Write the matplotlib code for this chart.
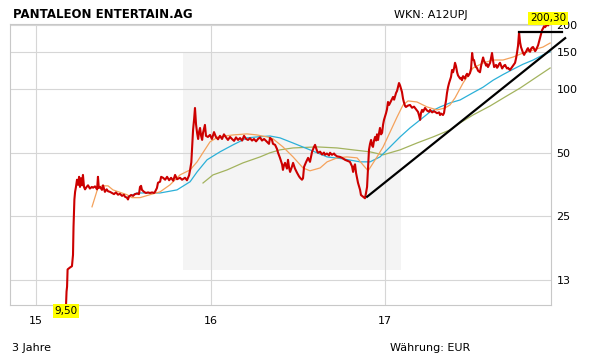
import matplotlib
matplotlib.use('Agg')
import matplotlib.pyplot as plt
from matplotlib.patches import Rectangle
from matplotlib.ticker import FixedLocator, NullLocator

# Kurs (Jahr als Dezimalzahl, Preis in EUR)
price_x = [2015.172, 2015.175, 2015.178, 2015.181, 2015.195, 2015.206, 2015.212, 2015.215, 2015.220, 2015.224,
           2015.229, 2015.235, 2015.241, 2015.247, 2015.252, 2015.258, 2015.264, 2015.269, 2015.275, 2015.281,
           2015.290, 2015.298, 2015.309, 2015.320, 2015.327, 2015.338, 2015.350, 2015.355, 2015.360, 2015.367,
           2015.378, 2015.384, 2015.395, 2015.405, 2015.413, 2015.424, 2015.435, 2015.447, 2015.458, 2015.470,
           2015.481, 2015.493, 2015.504, 2015.510, 2015.521, 2015.527, 2015.533, 2015.545, 2015.556, 2015.567,
           2015.579, 2015.590, 2015.596, 2015.602, 2015.607, 2015.619, 2015.630, 2015.642, 2015.653, 2015.665,
           2015.676, 2015.682, 2015.693, 2015.699, 2015.711, 2015.717, 2015.728, 2015.740, 2015.751, 2015.763,
           2015.774, 2015.786, 2015.797, 2015.808, 2015.825, 2015.837, 2015.854, 2015.865, 2015.877, 2015.883,
           2015.890, 2015.894, 2015.900, 2015.906, 2015.911, 2015.917, 2015.923, 2015.929, 2015.935, 2015.940,
           2015.946, 2015.952, 2015.957, 2015.968, 2015.974, 2015.985, 2015.997, 2016.008, 2016.020, 2016.031,
           2016.043, 2016.054, 2016.066, 2016.077, 2016.089, 2016.100, 2016.112, 2016.123, 2016.135, 2016.146,
           2016.158, 2016.169, 2016.181, 2016.192, 2016.204, 2016.215, 2016.226, 2016.238, 2016.249, 2016.261,
           2016.272, 2016.284, 2016.295, 2016.307, 2016.324, 2016.335, 2016.341, 2016.352, 2016.358, 2016.370,
           2016.381, 2016.387, 2016.398, 2016.410, 2016.415, 2016.421, 2016.427, 2016.438, 2016.444, 2016.450,
           2016.456, 2016.467, 2016.473, 2016.484, 2016.496, 2016.507, 2016.513, 2016.524, 2016.530, 2016.536,
           2016.547, 2016.559, 2016.570, 2016.582, 2016.593, 2016.599, 2016.610, 2016.616, 2016.628, 2016.639,
           2016.650, 2016.656, 2016.667, 2016.679, 2016.685, 2016.696, 2016.708, 2016.713, 2016.725, 2016.742,
           2016.754, 2016.771, 2016.782, 2016.799, 2016.811, 2016.817, 2016.822, 2016.828, 2016.834, 2016.845,
           2016.857, 2016.862, 2016.868, 2016.880, 2016.885, 2016.891, 2016.897, 2016.903, 2016.908, 2016.914,
           2016.920, 2016.926, 2016.931, 2016.937, 2016.943, 2016.949, 2016.954, 2016.960, 2016.966, 2016.971,
           2016.977, 2016.983, 2016.989, 2016.994, 2017.000, 2017.006, 2017.011, 2017.017, 2017.023, 2017.029,
           2017.035, 2017.046, 2017.052, 2017.063, 2017.069, 2017.074, 2017.080, 2017.086, 2017.092, 2017.097,
           2017.103, 2017.109, 2017.115, 2017.120, 2017.132, 2017.143, 2017.155, 2017.166, 2017.172, 2017.183,
           2017.189, 2017.195, 2017.201, 2017.206, 2017.212, 2017.218, 2017.229, 2017.241, 2017.252, 2017.258,
           2017.270, 2017.281, 2017.287, 2017.298, 2017.310, 2017.315, 2017.321, 2017.332, 2017.338, 2017.344,
           2017.350, 2017.355, 2017.361, 2017.367, 2017.372, 2017.378, 2017.384, 2017.390, 2017.396, 2017.401,
           2017.407, 2017.413, 2017.418, 2017.424, 2017.430, 2017.436, 2017.441, 2017.447, 2017.458, 2017.464,
           2017.470, 2017.476, 2017.487, 2017.493, 2017.499, 2017.504, 2017.510, 2017.516, 2017.521, 2017.527,
           2017.533, 2017.539, 2017.544, 2017.550, 2017.556, 2017.562, 2017.567, 2017.573, 2017.579, 2017.585,
           2017.590, 2017.596, 2017.602, 2017.607, 2017.613, 2017.619, 2017.625, 2017.630, 2017.636, 2017.642,
           2017.648, 2017.653, 2017.659, 2017.665, 2017.671, 2017.676, 2017.682, 2017.688, 2017.694, 2017.699,
           2017.705, 2017.711, 2017.716, 2017.722, 2017.728, 2017.734, 2017.740, 2017.745, 2017.751, 2017.756,
           2017.762, 2017.768, 2017.774, 2017.779, 2017.785, 2017.791, 2017.797, 2017.802, 2017.808, 2017.814,
           2017.819, 2017.825, 2017.831, 2017.837, 2017.842, 2017.848, 2017.854, 2017.860, 2017.865, 2017.871,
           2017.877, 2017.883, 2017.888, 2017.894, 2017.900, 2017.906, 2017.911, 2017.917, 2017.923, 2017.929,
           2017.934]
price_y = [9.5, 11.0, 11.6, 14.0, 14.3, 14.5, 16.4, 22.3, 30.0, 32.6,
           34.4, 37.2, 35.2, 38.4, 34.4, 37.8, 35.0, 39.2, 34.4, 33.5,
           34.4, 35.0, 33.8, 34.4, 34.1, 34.6, 33.5, 38.4, 34.0, 34.4,
           33.3, 35.0, 32.6, 33.5, 32.8, 32.6, 32.2, 31.8, 32.4, 31.6,
           31.9, 31.2, 31.6, 30.9, 30.6, 30.0, 31.0, 31.5, 31.2, 31.8,
           32.0, 31.8, 34.4, 34.8, 33.3, 32.6, 32.2, 32.4, 32.2, 32.4,
           32.2, 32.6, 34.0, 36.0, 36.4, 38.4, 38.0, 37.2, 38.4, 37.0,
           38.0, 36.8, 39.2, 37.4, 38.0, 37.2, 38.0, 37.0, 39.0, 41.4,
           45.0, 52.0, 64.0, 72.0, 81.3, 68.0, 62.0, 58.0, 63.0, 65.4,
           60.0, 57.4, 62.0, 67.6, 60.0, 59.3, 60.6, 58.0, 62.5, 59.3,
           57.8, 60.0, 58.0, 61.0, 59.0, 57.4, 59.3, 58.0, 56.8, 59.0,
           57.4, 58.6, 57.0, 60.0, 58.0, 57.4, 58.5, 57.0, 58.0, 56.5,
           58.0, 59.0, 57.0, 58.0, 56.2, 55.0, 58.7, 57.5, 55.0, 54.4,
           52.0, 49.9, 47.2, 44.0, 41.4, 43.5, 44.7, 42.0, 46.2, 42.5,
           40.5, 43.0, 44.7, 42.0, 40.1, 38.6, 38.0, 37.2, 37.8, 42.8,
           45.0, 47.2, 45.2, 50.5, 53.2, 54.4, 51.0, 49.9, 50.5, 49.0,
           50.0, 48.8, 49.5, 48.5, 49.9, 48.8, 49.5, 48.8, 48.0, 47.7,
           47.2, 46.2, 45.8, 45.2, 43.0, 40.5, 42.8, 44.0, 40.0, 36.0,
           33.3, 31.5, 31.2, 30.6, 30.4, 32.2, 34.4, 42.8, 51.5, 55.0,
           57.4, 54.0, 53.2, 57.0, 59.3, 57.0, 61.0, 57.4, 62.0, 65.4,
           61.0, 62.0, 68.0, 71.4, 74.0, 77.0, 80.0, 86.8, 84.0, 85.9,
           88.0, 91.7, 89.0, 95.7, 98.0, 102.0, 106.7, 104.0, 100.0, 96.8,
           90.0, 85.9, 83.0, 82.2, 83.5, 84.0, 81.5, 82.5, 81.3, 79.0,
           77.9, 75.0, 71.4, 77.0, 79.6, 78.0, 81.3, 79.0, 78.0, 79.6,
           77.5, 78.5, 77.9, 76.8, 77.5, 75.3, 76.5, 75.3, 77.0, 83.0,
           88.7, 95.7, 102.0, 106.7, 110.0, 114.0, 123.0, 120.0, 126.0, 133.0,
           128.0, 120.0, 116.0, 114.0, 112.0, 113.0, 110.0, 115.0, 112.0, 116.0,
           118.0, 115.0, 119.0, 125.0, 148.0, 138.0, 137.0, 130.0, 127.0, 125.6,
           122.0, 121.0, 120.0, 128.0, 135.0, 141.0, 136.0, 133.0, 129.0, 131.0,
           127.0, 130.0, 133.0, 140.0, 148.0, 136.0, 127.0, 128.0, 130.0, 126.0,
           128.0, 131.0, 133.0, 129.0, 125.0, 127.0, 129.0, 130.0, 127.0, 125.0,
           126.0, 124.0, 123.0, 125.0, 127.0, 129.0, 131.0, 133.0, 140.0, 148.0,
           160.0, 185.0, 166.0, 158.0, 153.0, 148.0, 145.0, 148.0, 150.0, 154.0,
           156.0, 152.0, 150.0, 155.0, 157.0, 158.0, 155.0, 151.0, 153.0, 157.0,
           161.0, 168.0, 174.0, 182.0, 190.0, 194.0, 198.0, 196.0, 199.0, 202.0,
           200.3]

# gleitende Durchschnitte
ma38_x = [2015.321, 2015.355, 2015.378, 2015.413, 2015.441, 2015.521, 2015.550, 2015.596, 2015.653, 2015.711,
          2015.768, 2015.825, 2015.883, 2015.923, 2015.957, 2015.997, 2016.043, 2016.129, 2016.209, 2016.266,
          2016.324, 2016.358, 2016.415, 2016.473, 2016.530, 2016.570, 2016.628, 2016.668, 2016.725, 2016.782,
          2016.840, 2016.874, 2016.903, 2016.954, 2016.989, 2017.029, 2017.069, 2017.103, 2017.132, 2017.183,
          2017.241, 2017.298, 2017.344, 2017.372, 2017.401, 2017.447, 2017.504, 2017.562, 2017.619, 2017.676,
          2017.734, 2017.791, 2017.848, 2017.905, 2017.946]
ma38_y = [27.7, 34.1, 34.8, 34.8, 33.3, 31.6, 30.6, 30.6, 31.6, 32.6,
          35.2, 39.2, 41.4, 45.2, 50.0, 56.2, 59.3, 60.6, 61.3, 60.6,
          59.3, 58.1, 53.2, 47.7, 42.3, 41.0, 42.3, 45.2, 47.2, 47.7,
          47.2, 43.7, 41.0, 47.7, 53.2, 62.6, 73.7, 84.0, 87.8, 86.8,
          82.2, 79.6, 81.3, 84.0, 90.7, 106.7, 125.7, 132.7, 137.1, 137.1,
          141.6, 148.0, 152.9, 157.9, 165.0]

ma100_x = [2015.527, 2015.579, 2015.653, 2015.711, 2015.808, 2015.883, 2015.923, 2015.980, 2016.054, 2016.129,
           2016.209, 2016.266, 2016.341, 2016.398, 2016.473, 2016.570, 2016.668, 2016.759, 2016.857, 2016.914,
           2016.971, 2017.029, 2017.086, 2017.143, 2017.201, 2017.258, 2017.315, 2017.372, 2017.430, 2017.504,
           2017.562, 2017.619, 2017.676, 2017.734, 2017.791, 2017.848, 2017.905, 2017.946]
ma100_y = [30.9, 32.2, 32.2, 32.2, 33.3, 36.4, 40.5, 46.2, 50.4, 54.4,
           58.7, 59.3, 59.9, 58.7, 55.5, 51.5, 47.7, 46.7, 45.2, 45.2,
           47.7, 53.2, 59.3, 65.4, 71.4, 77.9, 82.2, 85.9, 88.7, 96.0,
           102.0, 110.0, 117.0, 124.0, 131.0, 137.0, 145.0, 150.0]

ma200_x = [2015.957, 2016.014, 2016.095, 2016.186, 2016.284, 2016.341, 2016.398, 2016.473, 2016.610, 2016.725,
           2016.817, 2016.914, 2016.989, 2017.086, 2017.183, 2017.275, 2017.372, 2017.430, 2017.504, 2017.602,
           2017.688, 2017.774, 2017.860, 2017.946]
ma200_y = [35.9, 39.2, 41.4, 44.7, 47.7, 49.9, 51.5, 52.6, 53.2, 52.6,
           51.5, 50.4, 48.8, 51.5, 55.5, 59.3, 64.0, 69.1, 75.3, 83.1,
           91.7, 101.0, 112.7, 125.7]

# Trendlinie und Widerstand
trend_x = [2016.897, 2018.032]
trend_y = [30.9, 174.0]
resist_x = [2017.768, 2018.014]
resist_y = [186.0, 186.0]

year_ticks = [2015, 2016, 2017]
year_labels = ['15', '16', '17']
price_ticks = [12.5, 25, 50, 100, 150, 200]
price_labels = ['13', '25', '50', '100', '150', '200']

fig = plt.figure(figsize=(6.11, 3.64), dpi=100)
fig.set_facecolor('white')
ax = fig.add_axes([10 / 611, 1 - 305 / 364, 541 / 611, 281 / 364])
ax.set_facecolor('white')

# grauer Hintergrundblock
ax.add_patch(Rectangle((183 / 611, 1 - 270 / 364), 218 / 611, 218 / 364,
                       transform=fig.transFigure, facecolor='#f4f4f4', edgecolor='none', zorder=0.1))

ax.set_yscale('log')
ax.set_xlim(2014.851, 2017.951)
ax.set_ylim(9.5, 203)

ax.plot(ma200_x, ma200_y, color='#a3b35e', lw=0.9, zorder=2)
ax.plot(ma100_x, ma100_y, color='#2bb0d8', lw=0.9, zorder=2)
ax.plot(ma38_x, ma38_y, color='#f4a25c', lw=0.9, zorder=2)
ax.plot(price_x, price_y, color='#cc0000', lw=1.5, zorder=3)
ax.plot(trend_x, trend_y, color='black', lw=1.6, zorder=4, clip_on=False)
ax.plot(resist_x, resist_y, color='black', lw=1.6, zorder=4, clip_on=False)

ax.annotate('9,50', (price_x[0], price_y[0]), xytext=(0, -6), textcoords='offset pixels',
            ha='center', va='center', fontsize=7.5,
            bbox=dict(boxstyle='square,pad=0.15', fc='#ffff00', ec='none'), zorder=6, annotation_clip=False)
ax.annotate('200,30', (price_x[-1], price_y[-1]), xytext=(0, 7), textcoords='offset pixels',
            ha='center', va='center', fontsize=7.5,
            bbox=dict(boxstyle='square,pad=0.15', fc='#ffff00', ec='none'), zorder=6, annotation_clip=False)

ax.xaxis.set_major_locator(FixedLocator(year_ticks))
ax.set_xticklabels(year_labels)
ax.yaxis.set_major_locator(FixedLocator(price_ticks))
ax.yaxis.set_minor_locator(NullLocator())
ax.set_yticklabels(price_labels)
ax.yaxis.tick_right()
ax.tick_params(axis='x', length=0, pad=8, labelsize=8)
ax.tick_params(axis='y', length=0, pad=4, labelsize=8)

ax.grid(True, color='#d6d6d6', lw=0.8)
ax.set_axisbelow(True)
for s in ax.spines.values():
    s.set_color('#c8c8c8')
    s.set_linewidth(0.8)

fig.text(13 / 611, 1 - 15 / 364, 'PANTALEON ENTERTAIN.AG', fontsize=8.5, fontweight='bold', va='center')
fig.text(394 / 611, 1 - 15 / 364, 'WKN: A12UPJ', fontsize=8, va='center')
fig.text(12 / 611, 1 - 348 / 364, '3 Jahre', fontsize=8, va='center')
fig.text(390 / 611, 1 - 348 / 364, 'Währung: EUR', fontsize=8, va='center')

fig.savefig('out.png', dpi=100)
